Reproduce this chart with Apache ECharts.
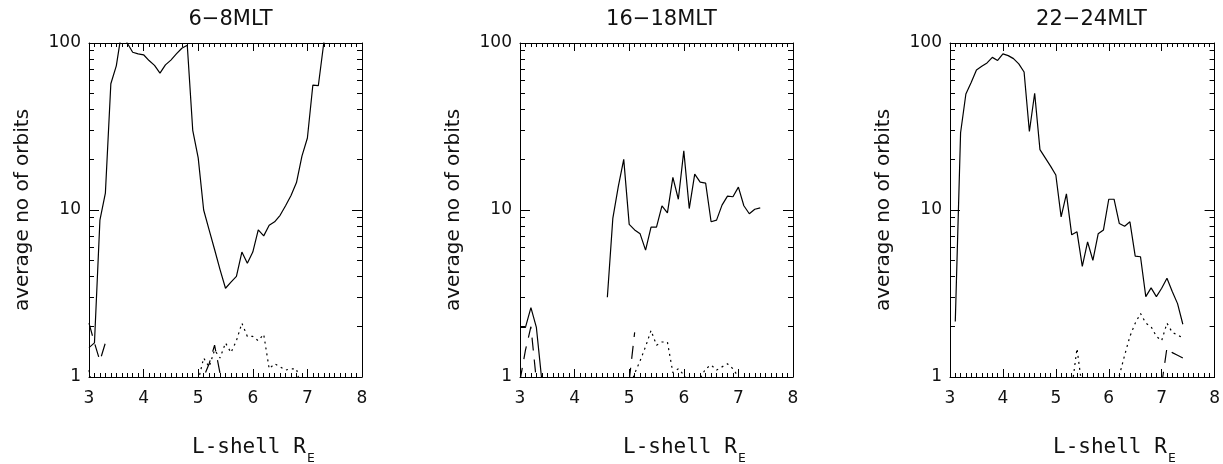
<!DOCTYPE html>
<html><head><meta charset="utf-8">
<script src="https://cdn.jsdelivr.net/npm/echarts@6/dist/echarts.min.js"></script>
<style>html,body{margin:0;padding:0;background:#fff}#c{width:1223px;height:464px}</style>
</head><body><div id="c"></div><script>
// L-shell bins (R_E)
const lShell = [3.0,3.1,3.2,3.3,3.4,3.5,3.6,3.7,3.8,3.9,4.0,4.1,4.2,4.3,4.4,4.5,4.6,4.7,4.8,4.9,
                5.0,5.1,5.2,5.3,5.4,5.5,5.6,5.7,5.8,5.9,6.0,6.1,6.2,6.3,6.4,6.5,6.6,6.7,6.8,6.9,
                7.0,7.1,7.2,7.3,7.4];
const panelTitles = ['6\u22128MLT', '16\u221218MLT', '22\u221224MLT'];
const xTickValues = [3, 4, 5, 6, 7, 8];
const yMinorTicks = [2,3,4,5,6,7,8,9,20,30,40,50,60,70,80,90];
const yTitle = 'average no of orbits';
const xTitle = 'L-shell R';
const xTitleSub = 'E';

// 6-8 MLT
const mlt06Solid = [1.5,1.6,8.7,12.6,57,73,118,100,88,86,85,78.5,73.5,66,74,79,86,93,97,30,
                    20.5,10,7.6,5.8,4.4,3.4,3.7,4.0,5.6,4.8,5.6,7.6,7.0,8.1,8.5,9.3,10.6,12.2,14.6,21,
                    27,56,55.5,100,160];
const mlt06Dashed = [2.1,1.6,1.25,1.6,null,null,null,null,null,null,null,null,null,null,null,null,null,null,null,null,
                     0.8,1.0,1.2,1.55,1.05,0.7,null,null,null,null,null,null,null,null,null,null,null,null,null,null,
                     null,null,null,null,null];
const mlt06Dotted = [1.1,0.7,null,null,null,null,null,null,null,null,null,null,null,null,null,null,null,null,null,null,
                     0.95,1.3,1.15,1.45,1.3,1.6,1.4,1.65,2.1,1.75,1.75,1.65,1.8,1.12,1.2,1.15,1.1,1.12,1.12,0.8,
                     null,null,null,null,null];
// 16-18 MLT
const mlt16Solid = [1.98,1.98,2.6,1.98,0.95,null,null,null,null,null,null,null,null,null,null,null,3.0,8.9,13.8,20.1,
                    8.2,7.6,7.2,5.75,7.9,7.9,10.6,9.6,15.7,11.6,22.6,10.2,16.4,14.7,14.5,8.5,8.7,10.7,12.1,12.0,
                    13.7,10.6,9.5,10.1,10.3];
const mlt16Dashed = [0.95,1.45,2.0,0.95,null,null,null,null,null,null,null,null,null,null,null,null,null,null,null,null,
                     0.95,1.85,null,null,null,null,null,null,null,null,null,null,null,null,null,null,null,null,null,null,
                     null,null,null,null,null];
const mlt16Dotted = [null,null,null,null,null,null,null,null,null,null,null,null,null,null,null,null,null,null,null,null,
                     0.85,1.05,1.25,1.52,1.9,1.55,1.62,1.62,1.06,1.12,1.03,0.9,0.9,0.98,1.12,1.18,1.1,1.15,1.2,1.12,
                     1.0,0.85,null,null,null];
// 22-24 MLT
const mlt22Solid = [null,2.15,29,49.5,58,69,72.5,76,82,78.6,86,84,80.6,75,67,29.5,50,23,20.5,18.3,
                    16.2,9.1,12.5,7.1,7.4,4.6,6.45,5.0,7.2,7.6,11.6,11.6,8.3,8.0,8.5,5.3,5.25,3.03,3.42,3.03,
                    3.4,3.9,3.25,2.75,2.07];
const mlt22Dashed = [null,null,null,null,null,null,null,null,null,null,null,null,null,null,null,null,null,null,null,null,
                     null,null,null,null,null,null,null,null,null,null,null,null,null,null,null,null,null,null,null,null,
                     0.9,1.5,1.4,1.35,1.3];
const mlt22Dotted = [null,null,null,null,null,null,null,null,null,null,null,null,null,null,null,null,null,null,null,null,
                     null,null,null,0.85,1.48,0.85,null,null,null,null,null,0.8,1.02,1.35,1.75,2.1,2.4,2.1,2.0,1.75,
                     1.65,2.1,1.85,1.78,1.72];

const panels = [
  {title: panelTitles[0], solid: mlt06Solid, dashed: mlt06Dashed, dotted: mlt06Dotted},
  {title: panelTitles[1], solid: mlt16Solid, dashed: mlt16Dashed, dotted: mlt16Dotted},
  {title: panelTitles[2], solid: mlt22Solid, dashed: mlt22Dashed, dotted: mlt22Dotted}
];

const gridLefts = [89, 520, 950];
const gridWidths = [273, 273, 272];
const GT = 43, GH = 334;
const BLACK = '#000';
const SANS = 'DejaVu Sans';
const MONO = 'DejaVu Sans Mono';

const chart = echarts.init(document.getElementById('c'), null, {renderer: 'canvas'});
const grid = [], xAxis = [], yAxis = [], series = [], title = [], graphic = [];

panels.forEach((p, i) => {
  const L = gridLefts[i], W = gridWidths[i];
  grid.push({left: L, top: GT, width: W, height: GH});
  title.push({text: p.title, left: L + W / 2 + (i === 2 ? 0.5 : 0), top: 4, textAlign: 'center',
              textStyle: {fontFamily: SANS, fontSize: 21, fontWeight: 'normal', color: '#111'}});
  const xBase = {gridIndex: i, type: 'value', min: xTickValues[0], max: xTickValues[xTickValues.length - 1], interval: 1,
    axisLine: {show: true, onZero: false, lineStyle: {color: BLACK, width: 1}},
    axisTick: {show: true, inside: true, length: 8, lineStyle: {color: BLACK, width: 1}},
    minorTick: {show: true, splitNumber: 10, length: 4, lineStyle: {color: BLACK, width: 1}},
    splitLine: {show: false}, minorSplitLine: {show: false}};
  xAxis.push(Object.assign({}, xBase, {position: 'bottom',
    axisLabel: {show: true, margin: 13, fontFamily: SANS, fontSize: 17, color: '#111'}}));
  xAxis.push(Object.assign({}, xBase, {position: 'top', axisLabel: {show: false}}));
  const yBase = {gridIndex: i, type: 'log', logBase: 10, min: 1, max: 100,
    axisLine: {show: true, onZero: false, lineStyle: {color: BLACK, width: 1}},
    axisTick: {show: true, inside: true, length: 10, lineStyle: {color: BLACK, width: 1}},
    splitLine: {show: false}};
  yAxis.push(Object.assign({}, yBase, {position: 'left',
    axisLabel: {show: true, margin: 8, fontFamily: SANS, fontSize: 17, color: '#111'},
    name: yTitle, nameLocation: 'middle', nameGap: 56,
    nameTextStyle: {fontFamily: SANS, fontSize: 20, color: '#111'}}));
  yAxis.push(Object.assign({}, yBase, {position: 'right', axisLabel: {show: false}}));
  const minorVals = yMinorTicks.map(v => Math.log10(v));
  const helper = {gridIndex: i, type: 'value', min: 0, max: 2,
    axisLine: {show: false}, axisLabel: {show: false}, splitLine: {show: false},
    axisTick: {show: true, inside: true, length: 5, customValues: minorVals, lineStyle: {color: BLACK, width: 1}}};
  yAxis.push(Object.assign({}, helper, {position: 'left'}));
  yAxis.push(Object.assign({}, helper, {position: 'right'}));

  const toData = arr => lShell.map((x, k) => [x, arr[k] == null ? '-' : arr[k]]);
  const mk = (arr, type, w) => ({type: 'line', xAxisIndex: 2 * i, yAxisIndex: 4 * i, data: toData(arr),
    symbol: 'none', showSymbol: false, clip: true, connectNulls: false, silent: true,
    lineStyle: {color: BLACK, width: w, type: type}});
  series.push(mk(p.solid, 'solid', 1.2));
  series.push(mk(p.dashed, [13, 9], 1.2));
  series.push(mk(p.dotted, [2, 4], 1.2));

  graphic.push({type: 'text', left: L + 103, top: 437,
    style: {text: xTitle, font: '21px "' + MONO + '"', fill: '#111'}});
  graphic.push({type: 'text', left: L + 103 + 115, top: 452,
    style: {text: xTitleSub, font: '13px "' + MONO + '"', fill: '#111'}});
});

chart.setOption({animation: false, backgroundColor: '#fff', title, grid, xAxis, yAxis, series, graphic});
</script></body></html>
